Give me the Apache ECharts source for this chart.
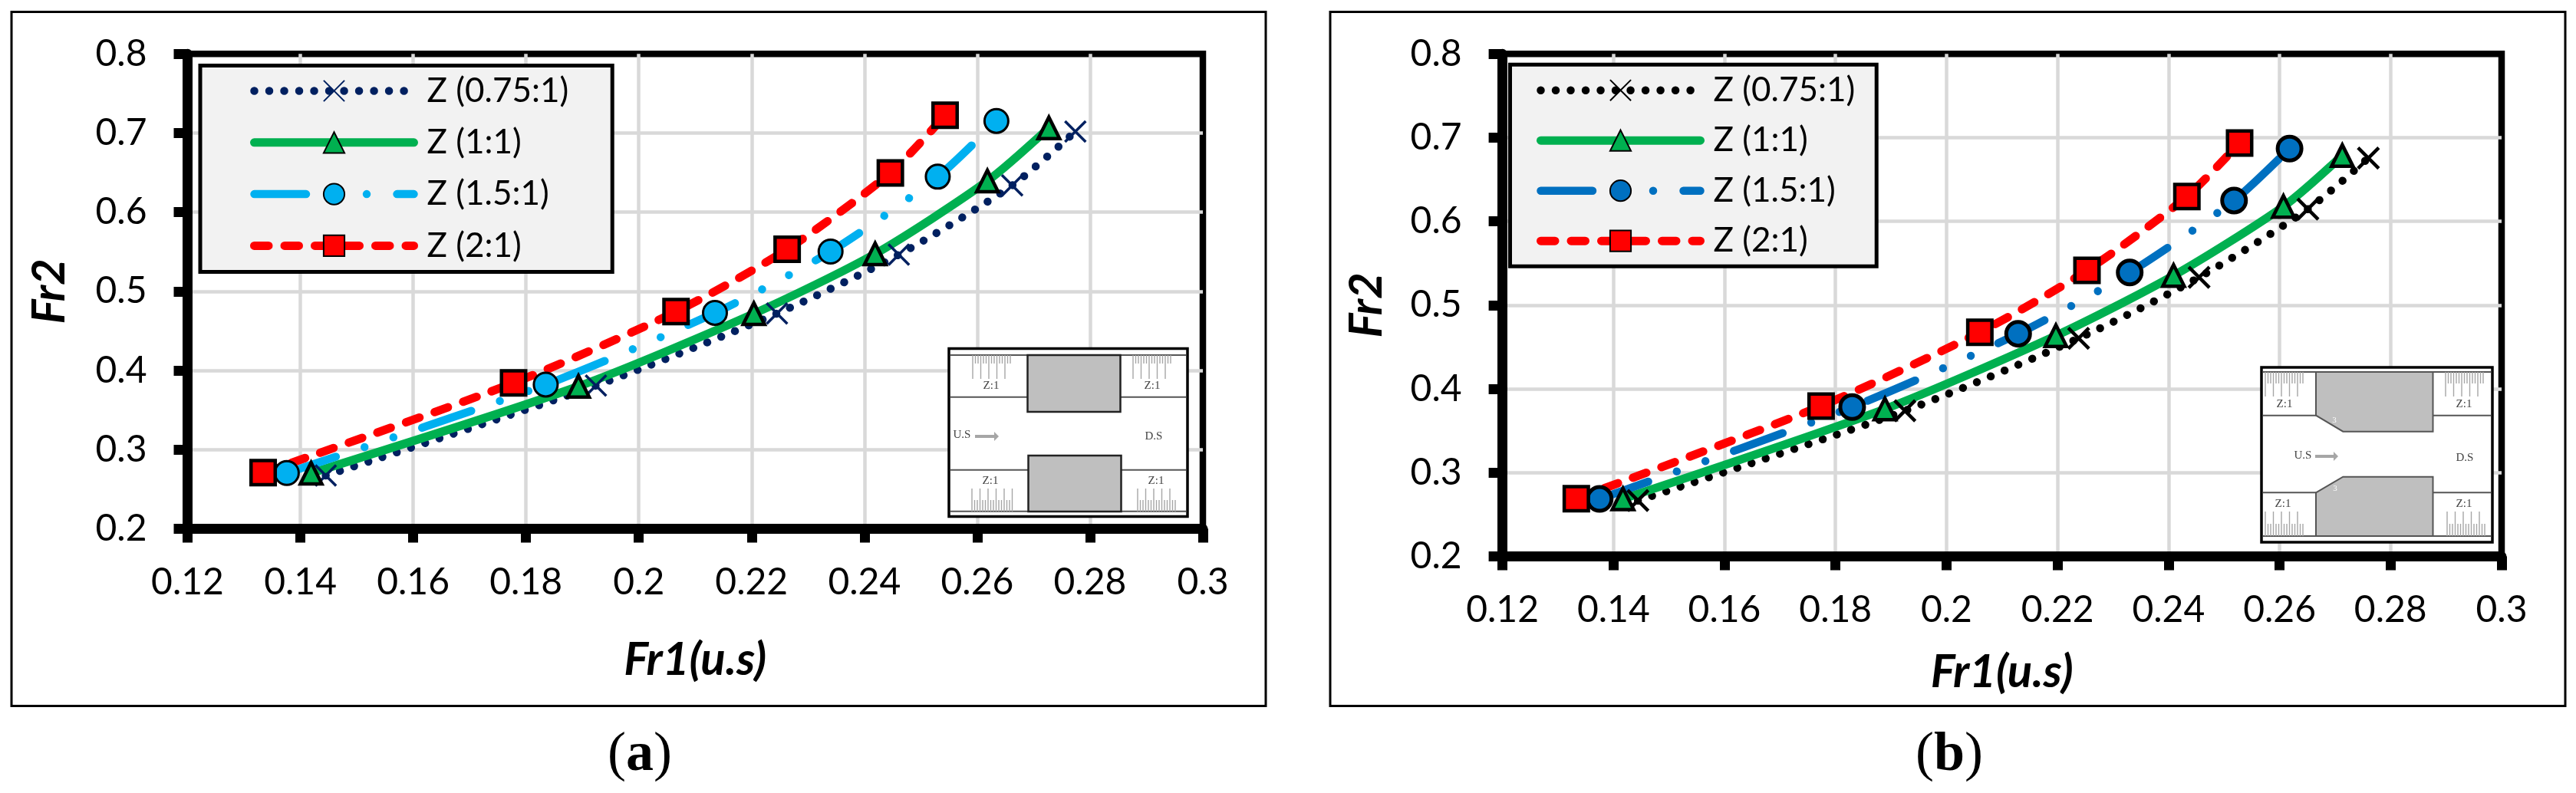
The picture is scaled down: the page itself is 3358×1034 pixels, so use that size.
<!DOCTYPE html>
<html>
<head>
<meta charset="utf-8">
<style>
  html, body, #main { margin: 0; width: 100%; height: 100%; background: #fff; }
</style>
<script src="https://cdn.jsdelivr.net/npm/echarts@6/dist/echarts.min.js"></script>
</head>
<body>
<div id="main"></div>
<script>
var seriesNames = ['Z (0.75:1)', 'Z (1:1)', 'Z (1.5:1)', 'Z (2:1)'];

// panel (a)
var a075x = [0.1445, 0.1924, 0.2245, 0.2461, 0.2662, 0.2774];
var a075y = [0.2673, 0.381, 0.4721, 0.5464, 0.6339, 0.702];
var a1x = [0.1419, 0.1893, 0.2204, 0.2419, 0.2618, 0.2727];
var a1y = [0.2703, 0.38, 0.4718, 0.5474, 0.6394, 0.7065];
var a15x = [0.1376, 0.1835, 0.2135, 0.234, 0.253, 0.2634];
var a15y = [0.2705, 0.3822, 0.4728, 0.5503, 0.6449, 0.7153];
var a2x = [0.1334, 0.1778, 0.2066, 0.2263, 0.2446, 0.2543];
var a2y = [0.2709, 0.3843, 0.4744, 0.5532, 0.6497, 0.7225];

// panel (b)
var b075x = [0.1444, 0.1925, 0.2238, 0.2455, 0.2651, 0.276];
var b075y = [0.2667, 0.3739, 0.4604, 0.5332, 0.6147, 0.6757];
var b1x = [0.1417, 0.1889, 0.2197, 0.2409, 0.2607, 0.2713];
var b1y = [0.2687, 0.376, 0.4635, 0.5353, 0.6179, 0.6786];
var b15x = [0.1375, 0.183, 0.2129, 0.233, 0.2518, 0.2618];
var b15y = [0.2686, 0.3784, 0.4659, 0.539, 0.625, 0.687];
var b2x = [0.1333, 0.1774, 0.206, 0.2253, 0.2433, 0.2528];
var b2y = [0.269, 0.3796, 0.4677, 0.5415, 0.6298, 0.6937];

var FONT = 'Lato';
var crossPath = 'path://M0 0L10 10M10 0L0 10';

function pairs(xs, ys) {
    return xs.map(function (x, i) { return [x, ys[i]]; });
}

function makeSeries(gridIndex, suffix, xs, ys, idx, colors, circleBorder) {
    var dash = [[0.01, 19.5], 'solid', [67.5, 39.5, 0.01, 39.5, 0.01, 39.5], [18.5, 21]][idx];
    var lineW = [10.5, 11, 10.5, 11][idx];
    var s = {
        name: seriesNames[idx] + suffix,
        type: 'line',
        xAxisIndex: gridIndex,
        yAxisIndex: gridIndex,
        data: pairs(xs, ys),
        smooth: 0.25,
        showSymbol: true,
        showAllSymbol: true,
        clip: false,
        lineStyle: { color: colors[idx], width: lineW, type: dash, cap: 'round', join: 'round' },
        itemStyle: { color: colors[idx], borderColor: '#000', borderWidth: 4.5, opacity: 1 }
    };
    if (idx === 0) {
        s.symbol = crossPath;
        s.symbolSize = 27;
        s.itemStyle.borderColor = colors[0];
        s.itemStyle.borderWidth = circleBorder > 3 ? 4.5 : 3.5;
    } else if (idx === 1) {
        s.symbol = 'triangle';
        s.symbolSize = 28;
    } else if (idx === 2) {
        s.symbol = 'circle';
        s.symbolSize = 31;
        s.itemStyle.borderWidth = circleBorder;
    } else {
        s.symbol = 'rect';
        s.symbolSize = 31.5;
    }
    return s;
}

function makeXAxis(gridIndex) {
    return {
        type: 'value', gridIndex: gridIndex, min: 0.12, max: 0.3, interval: 0.02,
        name: 'Fr1(u.s)', nameLocation: 'middle', nameGap: gridIndex === 0 ? 141 : 121,
        nameTextStyle: { fontFamily: FONT, fontWeight: 'bold', fontStyle: 'italic', fontSize: 60, color: '#000' },
        axisLine: { show: true, lineStyle: { color: '#000', width: 13 } },
        axisTick: { show: true, length: 18, lineStyle: { color: '#000', width: 13 } },
        axisLabel: { margin: 46, fontFamily: FONT, fontSize: 48, color: '#000' },
        splitLine: { show: true, showMinLine: false, showMaxLine: false, lineStyle: { color: '#D9D9D9', width: 4.5 } }
    };
}

function makeYAxis(gridIndex) {
    return {
        type: 'value', gridIndex: gridIndex, min: 0.2, max: 0.8, interval: 0.1,
        name: 'Fr2', nameLocation: 'middle', nameGap: gridIndex === 0 ? 150 : 147, nameRotate: 90,
        nameTextStyle: { fontFamily: FONT, fontWeight: 'bold', fontStyle: 'italic', fontSize: 60, color: '#000' },
        axisLine: { show: true, lineStyle: { color: '#000', width: 13 } },
        axisTick: { show: true, length: 18, lineStyle: { color: '#000', width: 13 } },
        axisLabel: { margin: 53, fontFamily: FONT, fontSize: 48, color: '#000' },
        splitLine: { show: true, showMinLine: false, showMaxLine: false, lineStyle: { color: '#D9D9D9', width: 4.5 } }
    };
}

function makeLegend(names, left, top, padding, gap) {
    return {
        show: true, orient: 'vertical', left: left, top: top, padding: padding,
        data: names, itemWidth: 208, itemHeight: 34, itemGap: gap,
        selectedMode: false, backgroundColor: '#F2F2F2', borderColor: '#000', borderWidth: 5,
        lineStyle: { width: 'inherit' },
        formatter: function (name) { return name.replace(' b', ''); },
        textStyle: { fontFamily: FONT, fontSize: 44, color: '#000', lineHeight: 40, padding: [0, 0, 0, 12] }
    };
}

// decorations: frames, captions and the channel sketches
var GREY = '#BFBFBF';

function rect(x, y, w, h, fill, stroke, lw, z) {
    return { type: 'rect', z: z, silent: true, shape: { x: x, y: y, width: w, height: h }, style: { fill: fill, stroke: stroke, lineWidth: lw } };
}
function seg(x1, y1, x2, y2, color, lw, z) {
    return { type: 'line', z: z, silent: true, shape: { x1: x1, y1: y1, x2: x2, y2: y2 }, style: { stroke: color, lineWidth: lw } };
}
function label(x, y, t, size, color, z) {
    return { type: 'text', z: z, silent: true, x: x, y: y, style: { text: t, fontFamily: 'Liberation Serif', fontSize: size, fill: color, align: 'center', verticalAlign: 'middle' } };
}
function hatch(out, x0, x1, yEdge, longEnd, shortEnd) {
    var n = 0;
    for (var x = x0; x <= x1; x += 3.5) {
        out.push(seg(x, yEdge, x, n % 3 === 0 ? longEnd : shortEnd, '#A6A6A6', 1.4, 21));
        n++;
    }
}
function caption(x, letter) {
    return {
        type: 'text', z: 5, silent: true, x: x, y: 985,
        style: {
            text: '{r|(}{b|' + letter + '}{r|)}', align: 'center', verticalAlign: 'middle',
            rich: {
                r: { fontFamily: 'Liberation Serif', fontSize: 72, fill: '#000' },
                b: { fontFamily: 'Liberation Serif', fontSize: 72, fontWeight: 'bold', fill: '#000' }
            }
        }
    };
}

function insetA() {
    var g = [rect(1237, 454.5, 311, 219, '#fff', '#000', 3.5, 20)];
    [463, 517.7, 612.7, 666.7].forEach(function (y) { g.push(seg(1239, y, 1546, y, '#555', 2, 21)); });
    g.push(rect(1339.5, 463, 121, 74, GREY, '#222', 2.5, 22));
    g.push(rect(1340.5, 594, 121, 73, GREY, '#222', 2.5, 22));
    hatch(g, 1268, 1317, 463, 494, 474);
    hatch(g, 1477, 1528, 463, 494, 474);
    hatch(g, 1267, 1320, 667, 637, 652);
    hatch(g, 1483, 1535, 667, 637, 652);
    g.push(label(1292, 503, 'Z:1', 15, '#444', 23), label(1502, 503, 'Z:1', 15, '#444', 23));
    g.push(label(1291, 627, 'Z:1', 15, '#444', 23), label(1507, 627, 'Z:1', 15, '#444', 23));
    g.push(label(1254, 567, 'U.S', 15, '#444', 23), label(1504, 569, 'D.S', 15, '#444', 23));
    g.push(seg(1271, 569, 1298, 569, '#A6A6A6', 4, 23));
    g.push({ type: 'polygon', z: 23, silent: true, shape: { points: [[1296, 563], [1302, 569], [1296, 575]] }, style: { fill: '#A6A6A6' } });
    return g;
}

function insetB() {
    var g = [rect(2948, 479, 301, 228, '#fff', '#000', 3.5, 20)];
    [485, 541.7, 642.3, 699].forEach(function (y) { g.push(seg(2950, y, 3247, y, '#555', 2, 21)); });
    g.push({ type: 'polygon', z: 22, silent: true, shape: { points: [[3019, 485], [3171.5, 485], [3171.5, 562.7], [3054.3, 562.7], [3019, 541.7]] }, style: { fill: GREY, stroke: '#555', lineWidth: 2 } });
    g.push({ type: 'polygon', z: 22, silent: true, shape: { points: [[3019, 642.3], [3054.3, 621.7], [3171.5, 621.7], [3171.5, 699], [3019, 699]] }, style: { fill: GREY, stroke: '#555', lineWidth: 2 } });
    hatch(g, 2953, 3003, 485, 517, 500);
    hatch(g, 3188, 3239, 485, 517, 500);
    hatch(g, 2953, 3003, 699, 667, 683);
    hatch(g, 3190, 3240, 699, 667, 683);
    g.push(label(2978, 527, 'Z:1', 15, '#444', 23), label(3212, 527, 'Z:1', 15, '#444', 23));
    g.push(label(2976, 657, 'Z:1', 15, '#444', 23), label(3212, 657, 'Z:1', 15, '#444', 23));
    g.push(label(3002, 594, 'U.S', 15, '#444', 23), label(3213, 597, 'D.S', 15, '#444', 23));
    g.push(label(3043, 548, '3', 11, '#fff', 23), label(3044, 637, '3', 11, '#fff', 23));
    g.push(seg(3018, 595, 3044, 595, '#A6A6A6', 4, 23));
    g.push({ type: 'polygon', z: 23, silent: true, shape: { points: [[3042, 589], [3048, 595], [3042, 601]] }, style: { fill: '#A6A6A6' } });
    return g;
}

var colorsA = ['#002060', '#00B050', '#00B0F0', '#FF0000'];
var colorsB = ['#000000', '#00B050', '#0070C0', '#FF0000'];

var chart = echarts.init(document.getElementById('main'), null, { renderer: 'canvas' });

var gridStyle = { show: true, backgroundColor: '#fff', borderColor: '#000', borderWidth: 8.5 };

chart.setOption({
    animation: false,
    backgroundColor: '#fff',
    grid: [
        Object.assign({ left: 244.5, top: 70.3, width: 1323.5, height: 619.2 }, gridStyle),
        Object.assign({ left: 1958.6, top: 70.3, width: 1302.4, height: 655.2 }, gridStyle)
    ],
    xAxis: [makeXAxis(0), makeXAxis(1)],
    yAxis: [makeYAxis(0), makeYAxis(1)],
    legend: [
        makeLegend(seriesNames, 261, 85.5, [11, 57, 12, 65], 23.3),
        makeLegend(seriesNames.map(function (n) { return n + ' b'; }), 1968.5, 84.2, [11.5, 28, 11, 34.5], 21.5)
    ],
    series: [
        makeSeries(0, '', a075x, a075y, 0, colorsA, 3),
        makeSeries(0, '', a1x, a1y, 1, colorsA, 3),
        makeSeries(0, '', a15x, a15y, 2, colorsA, 3),
        makeSeries(0, '', a2x, a2y, 3, colorsA, 3),
        makeSeries(1, ' b', b075x, b075y, 0, colorsB, 5),
        makeSeries(1, ' b', b1x, b1y, 1, colorsB, 5),
        makeSeries(1, ' b', b15x, b15y, 2, colorsB, 5),
        makeSeries(1, ' b', b2x, b2y, 3, colorsB, 5)
    ],
    graphic: [
        rect(15, 15.5, 1635, 905, 'transparent', '#000', 3, 1),
        rect(1734, 15.5, 1610, 905, 'transparent', '#000', 3, 1),
        caption(834, 'a'),
        caption(2541, 'b')
    ].concat(insetA(), insetB())
});

window.onresize = chart.resize;
</script>
</body>
</html>
